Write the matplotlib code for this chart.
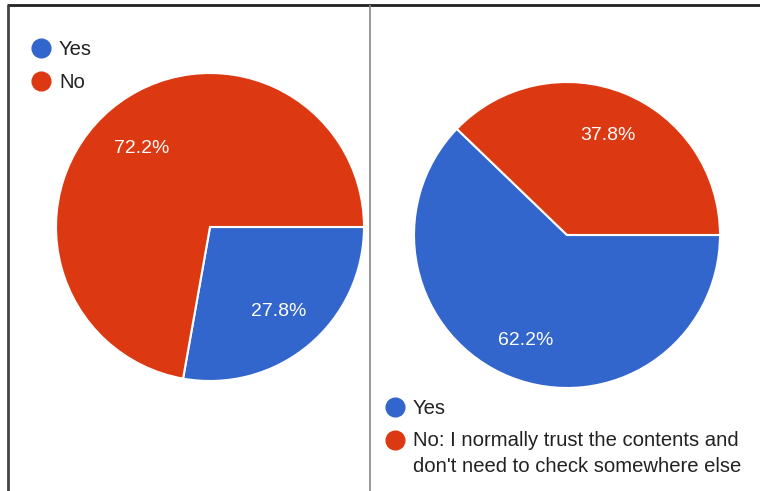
import matplotlib
matplotlib.use("Agg")
from matplotlib import pyplot as plt
from matplotlib.transforms import ScaledTranslation

W, H = 760, 491

labels_left = ["Yes", "No"]
values_left = [27.8, 72.2]

labels_right = ["Yes", "No: I normally trust the contents and\ndon't need to check somewhere else"]
values_right = [62.2, 37.8]

colors = ["#3366CC", "#DC3912"]

plt.rcParams["font.family"] = ["Arial", "Liberation Sans", "DejaVu Sans"]

fig = plt.figure(figsize=(W / 100, H / 100), dpi=100)
ax = fig.add_axes([0, 0, 1, 1])


def draw_pie(values, center, radius, pctdist):
    wedges, texts, autotexts = ax.pie(
        values, colors=colors, startangle=0, counterclock=False,
        center=center, radius=radius, autopct="%.1f%%", pctdistance=pctdist,
        wedgeprops=dict(edgecolor="white", linewidth=1.5),
        textprops=dict(color="white", fontsize=14))
    for t in autotexts:
        t.set_transform(t.get_transform() + ScaledTranslation(0, -3 / 100, fig.dpi_scale_trans))


draw_pie(values_left, (210, H - 227), 154, 0.69)
draw_pie(values_right, (567, H - 235), 153, 0.72)


def legend(labels, x, ys):
    # google-charts style legend: coloured dot + label
    shift = ax.transData + ScaledTranslation(0, 8.5 / 100, fig.dpi_scale_trans)
    for lab, c, y in zip(labels, colors, ys):
        ax.plot(x, H - y, marker="o", ls="", color=c, markersize=13.5)
        ax.text(x + 18, H - y, lab, fontsize=14.6, color="#222222",
                va="top", linespacing=1.4, transform=shift)


legend(labels_left, 41, [48, 81])
legend(labels_right, 395, [407, 440])

# frame lines
ax.plot([7, W], [H - 4.5, H - 4.5], color="#222222", lw=2, solid_capstyle="butt")
ax.plot([8, 8], [0, H - 4.5], color="#444444", lw=2, solid_capstyle="butt")
ax.plot([370, 370], [0, H - 4.5], color="#888888", lw=1.2, solid_capstyle="butt")

ax.set_xlim(0, W)
ax.set_ylim(0, H)
ax.set_aspect("equal")
ax.axis("off")

fig.savefig("out.png", dpi=100)
